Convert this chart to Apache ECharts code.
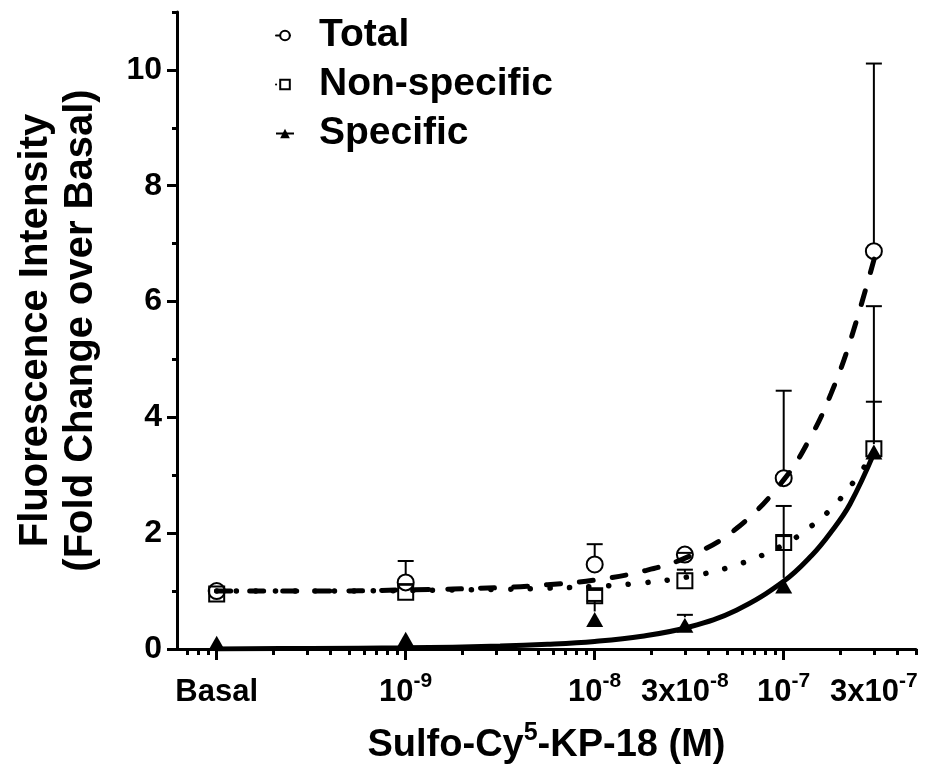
<!DOCTYPE html>
<html>
<head>
<meta charset="utf-8">
<script src="https://cdn.jsdelivr.net/npm/echarts@6/dist/echarts.min.js"></script>
<style>html,body{margin:0;padding:0;background:#fff;}#c{width:927px;height:776px;}</style>
</head>
<body>
<div id="c"></div>
<script>
// ---- data ----
const concM = [1e-10, 1e-9, 1e-8, 3e-8, 1e-7, 3e-7]; // Basal drawn at the 1e-10 position
const tickLabels = ['Basal', '10{s|-9}', '10{s|-8}', '3x10{s|-8}', '10{s|-7}', '3x10{s|-7}'];
const totalMean = [1.00, 1.15, 1.46, 1.63, 2.95, 6.87];
const totalUpper = [1.00, 1.52, 1.81, 1.66, 4.46, 10.11];
const nonspecMean = [0.95, 0.98, 0.92, 1.18, 1.84, 3.46];
const nonspecUpper = [0.95, 1.12, 1.02, 1.37, 2.47, 4.27];
const specMean = [0.10, 0.17, 0.51, 0.41, 1.09, 3.40];
const specUpper = [0.10, 0.17, 0.83, 0.59, 1.95, 5.92];
// fitted curves, read at these concentrations (M)
const curveConc = [1e-10, 3.16e-10, 1e-9, 3.16e-9, 5.62e-9, 1e-8, 1.78e-8, 3.16e-8, 5.62e-8, 1e-7, 1.41e-7, 1.78e-7, 2.24e-7, 3.02e-7];
const totalCurve = [1.00, 1.00, 1.02, 1.06, 1.11, 1.19, 1.34, 1.60, 2.08, 2.92, 3.70, 4.41, 5.30, 6.75];
const nonspecCurve = [1.00, 1.00, 1.01, 1.03, 1.05, 1.08, 1.14, 1.25, 1.45, 1.80, 2.13, 2.42, 2.80, 3.40];
const specCurve = [0.00, 0.01, 0.02, 0.05, 0.08, 0.13, 0.22, 0.38, 0.67, 1.17, 1.62, 2.02, 2.50, 3.40];
const yMajor = [0, 2, 4, 6, 8, 10];
const yMinor = [1, 3, 5, 7, 9, 11];
const xMajorM = [1e-10, 1e-9, 1e-8, 1e-7];
const xMinorFactors = [2, 3, 4, 5, 6, 7, 8, 9];

// ---- build ----
const lg = v => Math.log10(v);
const xLabelVals = concM.map(lg);
const xMajor = xMajorM.map(lg);
const xMinor = [];
[1e-11, 1e-10, 1e-9, 1e-8, 1e-7].forEach(d => xMinorFactors.forEach(f => xMinor.push(lg(f * d))));
const X_MIN = -10.21, X_MAX = -6.3;
const xMinorIn = xMinor.filter(v => v >= X_MIN - 1e-9 && v <= X_MAX + 1e-9);

const FONT = '"Liberation Sans", Arial, sans-serif';
const pts = (xs, ys) => xs.map((x, i) => [lg(x), ys[i]]);
const err = (means, ups) => concM.map((c, i) => [lg(c), means[i], ups[i]]);

function errRender(params, api) {
  const x = api.value(0), m = api.value(1), u = api.value(2);
  const p = api.coord([x, m]);
  const h = api.coord([x, u]);
  const start = p[1] - 8;
  const children = [];
  if (u <= m + 1e-9) return {type: 'group', children: []};
  if (h[1] < start) {
    children.push({type: 'line', shape: {x1: p[0], y1: start, x2: p[0], y2: h[1]}, style: {stroke: '#000', lineWidth: 2}});
  }
  children.push({type: 'line', shape: {x1: p[0] - 8, y1: h[1], x2: p[0] + 8, y2: h[1]}, style: {stroke: '#000', lineWidth: 2}});
  return {type: 'group', children};
}

const labelMap = {};
xLabelVals.forEach((v, i) => labelMap[v.toFixed(4)] = tickLabels[i]);

const chart = echarts.init(document.getElementById('c'), null, {renderer: 'canvas'});
const option = {
  backgroundColor: '#fff',
  animation: false,
  grid: {left: 177, right: 11, top: 12, bottom: 126, containLabel: false},
  legend: {
    orient: 'vertical', left: 270, top: 9, itemGap: 6,
    itemWidth: 18, itemHeight: 12,
    data: ['Total', 'Non-specific', 'Specific'],
    textStyle: {fontFamily: FONT, fontWeight: 'bold', fontSize: 39, color: '#000', lineHeight: 43, padding: [0, 0, 0, 20]}
  },
  xAxis: [{
    type: 'value', min: X_MIN, max: X_MAX,
    splitLine: {show: false},
    axisLine: {show: true, onZero: false, lineStyle: {color: '#000', width: 3}},
    axisTick: {show: true, customValues: xMajor, length: 11, lineStyle: {color: '#000', width: 3}},
    axisLabel: {
      show: true, customValues: xLabelVals, margin: 22,
      formatter: v => labelMap[Number(v).toFixed(4)] || '',
      fontFamily: FONT, fontWeight: 'bold', fontSize: 31, color: '#000', lineHeight: 42,
      rich: {s: {fontFamily: FONT, fontWeight: 'bold', fontSize: 21, color: '#000', verticalAlign: 'top', lineHeight: 22}}
    },
    name: 'Sulfo-Cy{s|5}-KP-18 (M)', nameLocation: 'middle', nameGap: 72,
    nameTextStyle: {fontFamily: FONT, fontWeight: 'bold', fontSize: 38, color: '#000', lineHeight: 50,
      rich: {s: {fontFamily: FONT, fontWeight: 'bold', fontSize: 25, color: '#000', verticalAlign: 'top', lineHeight: 26}}}
  }, {
    type: 'value', min: X_MIN, max: X_MAX, position: 'bottom',
    splitLine: {show: false},
    axisLine: {show: false, onZero: false},
    axisTick: {show: true, customValues: xMinorIn, length: 6, lineStyle: {color: '#000', width: 3}},
    axisLabel: {show: false}
  }],
  yAxis: [{
    type: 'value', min: 0, max: 11,
    splitLine: {show: false},
    axisLine: {show: true, onZero: false, lineStyle: {color: '#000', width: 3}},
    axisTick: {show: true, customValues: yMajor, length: 10, lineStyle: {color: '#000', width: 3}},
    axisLabel: {show: true, customValues: yMajor, margin: 15, fontFamily: FONT, fontWeight: 'bold', fontSize: 32, color: '#000'},
    name: 'Fluorescence Intensity\n(Fold Change over Basal)', nameLocation: 'middle', nameGap: 74, nameRotate: 90,
    nameTextStyle: {fontFamily: FONT, fontWeight: 'bold', fontSize: 40, color: '#000', lineHeight: 45}
  }, {
    type: 'value', min: 0, max: 11, position: 'left',
    splitLine: {show: false},
    axisLine: {show: false, onZero: false},
    axisTick: {show: true, customValues: yMinor, length: 5, lineStyle: {color: '#000', width: 3}},
    axisLabel: {show: false}
  }],
  series: [
    {type: 'custom', name: 'errT', renderItem: errRender, data: err(totalMean, totalUpper), z: 1, silent: true},
    {type: 'custom', name: 'errN', renderItem: errRender, data: err(nonspecMean, nonspecUpper), z: 1, silent: true},
    {type: 'custom', name: 'errS', renderItem: errRender, data: err(specMean, specUpper), z: 1, silent: true},
    {type: 'scatter', name: 'mT', data: pts(concM, totalMean), symbol: 'circle', symbolSize: 16, z: 2,
      itemStyle: {color: 'rgba(0,0,0,0)', borderColor: '#000', borderWidth: 2, opacity: 1}},
    {type: 'scatter', name: 'mN', data: pts(concM, nonspecMean), symbol: 'rect', symbolSize: 15, z: 2,
      itemStyle: {color: 'rgba(0,0,0,0)', borderColor: '#000', borderWidth: 2, opacity: 1}},
    {type: 'scatter', name: 'mS', data: pts(concM, specMean), symbol: 'triangle', symbolSize: [17, 15], z: 3,
      itemStyle: {color: '#000', opacity: 1}},
    {type: 'line', name: 'Total', data: pts(curveConc, totalCurve), smooth: 0.4, showSymbol: false,
      symbol: 'emptyCircle', symbolSize: 11, z: 4,
      itemStyle: {color: '#000', borderColor: '#000', borderWidth: 2.5},
      lineStyle: {color: '#000', width: 5, type: [14, 19], cap: 'round'}},
    {type: 'line', name: 'Non-specific', data: pts(curveConc, nonspecCurve), smooth: 0.4, showSymbol: false,
      symbol: 'emptyRect', symbolSize: 11, z: 4,
      itemStyle: {color: '#000', borderColor: '#000', borderWidth: 2.5},
      lineStyle: {color: '#000', width: 5.5, type: [0.1, 19.5], cap: 'round'}},
    {type: 'line', name: 'Specific', data: pts(curveConc, specCurve), smooth: 0.4, showSymbol: false,
      symbol: 'triangle', symbolSize: 11, z: 4,
      itemStyle: {color: '#000'},
      lineStyle: {color: '#000', width: 5}}
  ]
};
chart.setOption(option);
</script>
</body>
</html>
